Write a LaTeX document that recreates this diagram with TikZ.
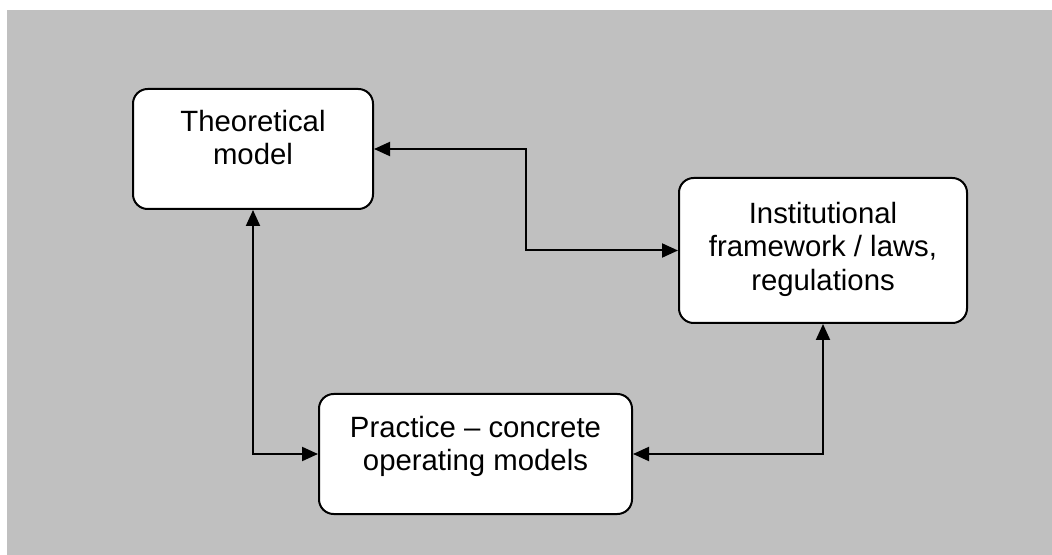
\documentclass[tikz,border=0pt]{standalone}
\usepackage{fontspec}
\setmainfont{Liberation Sans}
\usetikzlibrary{positioning,arrows.meta}

\tikzset{
  roundbox/.style={draw=black,fill=white,line width=1.5pt,rounded corners=11pt,inner sep=0pt},
  boxtext/.style={align=center,inner sep=0pt,anchor=north,font=\fontsize{22}{25}\selectfont},
  link/.style={line width=1.5pt,{Triangle[length=12pt,width=10.5pt]}-{Triangle[length=12pt,width=10.5pt]}}
}

\begin{document}
\begin{tikzpicture}[x=0.75pt,y=0.75pt,yscale=-1,xscale=1]
%set diagram size to 1052 x 555
\useasboundingbox (0,0) rectangle (1052,555);
\fill[white] (0,0) rectangle (1052,555);
%Shape: Background
\fill[fill={rgb,255:red,192;green,192;blue,192}] (7,10) rectangle (1052,555);

%Shape: Rounded Rectangle
\node[roundbox,minimum width=180pt,minimum height=90pt] (theory) at (253,149) {};
%Shape: Rounded Rectangle
\node[roundbox,minimum width=216pt,minimum height=108.75pt] (inst) at (823,250.5) {};
%Shape: Rounded Rectangle
\node[roundbox,minimum width=234.75pt,minimum height=90pt] (practice) at (475.5,454) {};

% Text Node
\node[boxtext,below=16.5pt of theory.north] (theorytxt) {Theoretical\\model};
% Text Node
\node[boxtext,below=18.75pt of inst.north] (insttxt) {Institutional\\framework / laws,\\regulations};
% Text Node
\node[boxtext,below=17pt of practice.north] (practicetxt) {Practice – concrete\\operating models};

%Connector
\coordinate (bend) at (526,200);
\draw[link] (theory.east) -| (bend) |- (inst.west);
%Connector
\draw[link] (theory.south) |- (practice.west);
%Connector
\draw[link] (practice.east) -| (inst.south);

\end{tikzpicture}
\end{document}
